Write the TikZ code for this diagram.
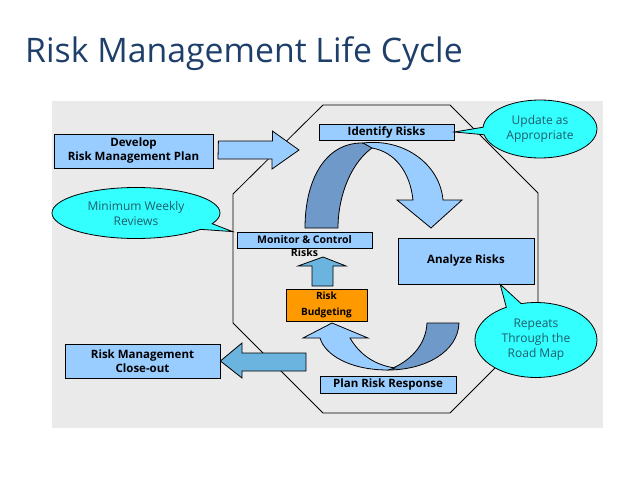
\documentclass[tikz,border=0pt]{standalone}
\usepackage{fontspec}
\setmainfont{Open Sans}
\usetikzlibrary{shapes,shapes.callouts,calc}
\definecolor{boxblue}{HTML}{99CCFF}
\definecolor{midblue}{HTML}{6CB4E0}
\definecolor{darkblue}{HTML}{6F99C8}
\definecolor{bggray}{HTML}{EAEAEA}
\definecolor{cyanfill}{HTML}{33FFFF}
\definecolor{titleblue}{HTML}{1F3F6B}
\definecolor{calltext}{HTML}{1E5C6C}
\definecolor{budgetorange}{HTML}{FF9900}
\tikzset{%
	block/.style    = {draw, line width=0.8pt, fill=boxblue, rectangle, inner sep=0pt,
		align=center, font=\fontsize{11.5}{14}\selectfont\bfseries},
	bubble/.style   = {draw, line width=0.8pt, ellipse callout, fill=cyanfill, inner sep=0pt,
		align=center, text=calltext, font=\fontsize{12}{15}\selectfont}, % Callout
	blockarrow/.style = {draw, line width=0.8pt, fill=midblue}, % Flat arrow
	ribbon/.style   = {draw, line width=0.8pt} % Curved arrow part
}

\begin{document}
\begin{tikzpicture}[x=1pt,y=-1pt]
			\useasboundingbox (0,0) rectangle (638,479);
			\node[anchor=base west, text=titleblue, inner sep=0pt, font=\fontsize{33.8}{38}\selectfont] (title) at (25,62) {Risk Management Life Cycle};
			
			\fill[bggray] (52,101) rectangle (603,428);
			\draw[line width=0.8pt] (323,105) -- (450,105) -- (538,193) -- (538,325) -- (450,413) -- (323,413) -- (233,323) -- (233,194) -- cycle;
			
			\node[block, minimum width=159pt, minimum height=34pt] (develop) at (133.5,151) {Develop\\Risk Management Plan};
			\node[block, minimum width=135pt, minimum height=16pt] (identify) at (386.5,132) {Identify Risks};
			\node[block, minimum width=135pt, minimum height=16pt, font=\fontsize{10.5}{13}\selectfont\bfseries,
				label={[inner sep=0pt, font=\fontsize{10.5}{13}\selectfont\bfseries]below:Risks}] (monitor) at (304.5,240) {Monitor \& Control};
			\node[block, minimum width=136pt, minimum height=46pt] (analyze) at (466,261) {Analyze Risks};
			\node[block, fill=budgetorange, minimum width=81pt, minimum height=32pt,
				font=\fontsize{10}{16}\selectfont\bfseries] (budget) at (326.5,305) {Risk\\Budgeting};
			\node[block, minimum width=136pt, minimum height=17pt] (plan) at (388,384.5) {Plan Risk Response};
			\node[block, minimum width=155pt, minimum height=34pt] (closeout) at (142.5,361) {Risk Management\\Close-out};
			
			\node[bubble, minimum width=114pt, minimum height=58pt,
				callout absolute pointer={(identify.east)}] (update) at (540,129) {Update as\\Appropriate};
			\node[bubble, minimum width=168pt, minimum height=51pt,
				callout absolute pointer={([xshift=-4pt]monitor.north west)}] (weekly) at (136,213) {Minimum Weekly\\Reviews};
			\node[bubble, minimum width=122pt, minimum height=75pt,
				callout absolute pointer={($(analyze.south)!0.5!(analyze.south east)$)}] (repeats) at (536,340) {Repeats\\Through the\\Road Map};
			
			% flat arrows
			\draw[blockarrow, fill=boxblue] ([xshift=5pt]develop.east) ++(0,-10) -- ++(54,0) -- ++(0,-10) -- (299,150) -- (272,169) -- ++(0,-10) -- (218,159) -- cycle;
			\draw[blockarrow] (306,353) -- (242,353) -- (242,343) -- (closeout.east) -- (242,378) -- (242,371) -- (306,371) -- cycle;
			\draw[blockarrow] (312,286) -- (312,266) -- (298,266) -- (323,257) -- (346,266) -- (333,266) -- (333,286) -- cycle;
			
			% upper curved arrow
			\draw[ribbon, fill=darkblue] (305,228) .. controls (305,180) and (325,143) .. (362,143) -- (375,146) .. controls (352,160) and (338,195) .. (338,228) -- cycle;
			\draw[ribbon, fill=boxblue] (363,143) .. controls (405,138) and (440,165) .. (443,200) -- (462,200) -- (431,228) -- (397,200) -- (413,200) .. controls (410,172) and (395,152) .. (372,148) -- cycle;
			
			% lower curved arrow
			\draw[ribbon, fill=darkblue] (427,323) -- (459,323) .. controls (458,352) and (425,370) .. (388,370) .. controls (410,362) and (426,345) .. (427,323) -- cycle;
			\draw[ribbon, fill=boxblue] (388,370) .. controls (350,370) and (325,355) .. (320,338) -- (303,338) -- (332,323) -- (368,338) -- (350,338) .. controls (360,355) and (375,365) .. (395,368) -- cycle;
		\end{tikzpicture}
\end{document}
